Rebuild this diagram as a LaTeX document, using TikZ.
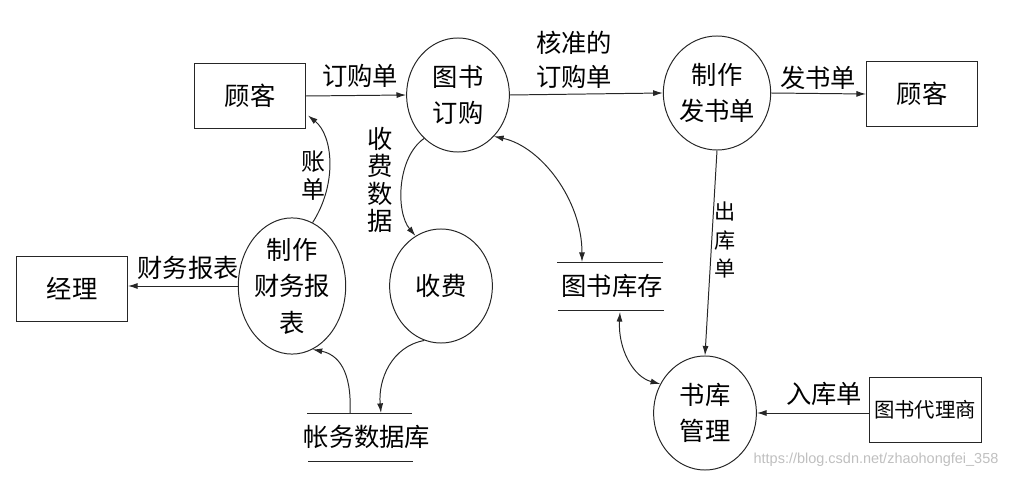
\documentclass[tikz,border=0pt]{standalone}
\usepackage{fontspec}
\setmainfont{Noto Sans CJK SC}
\newfontfamily\wmfont{Liberation Sans}
\usetikzlibrary{arrows.meta,shapes.geometric,calc}
\begin{document}
\begin{tikzpicture}[x=0.025cm,y=-0.025cm,
  line/.style={draw=black!85,line width=0.7pt},
  flow/.style={line,-{Latex[length=2.4mm,width=1.5mm]}},
  bflow/.style={line,{Latex[length=2.4mm,width=1.5mm]}-{Latex[length=2.4mm,width=1.5mm]}},
  proc/.style={ellipse,draw=black!85,line width=0.7pt,minimum width=2.57cm,minimum height=2.85cm,inner sep=0pt,align=center,font=\fontsize{18}{26}\selectfont},
  ext/.style={rectangle,draw=black!85,line width=0.7pt,minimum width=2.775cm,minimum height=1.6cm,inner sep=0pt,font=\fontsize{18}{24}\selectfont},
  store/.style={inner sep=0pt,font=\fontsize{18}{24}\selectfont},
  lbl/.style={inner sep=0pt,align=center,font=\fontsize{18}{24}\selectfont},
]
\useasboundingbox (0,0) rectangle (1020,478);

% entities and processes
\node[ext] (gk1) at (250,96) {顾客};
\node[proc] (ts) at (458,95) {图书\\订购};
\node[proc] (zf) at (717,93) {制作\\发书单};
\node[ext] (gk2) at (922,94) {顾客};
\node[ext] (jl) at (72,289) {经理};
\node[proc] (fz) at (292,286) {制作\\财务报\\表};
\node[proc] (sf) at (441,286) {收费};
\node[store] (zw) at (367,437) {帐务数据库};
\node[store] (kc) at (612,286) {图书库存};
\node[proc] (sk) at (705,413) {书库\\管理};
\node[ext,minimum width=2.8cm,font=\fontsize{14.5}{18}\selectfont] (dl) at (925,410) {图书代理商};

% data store lines
\draw[line] ($(zw.center)+(-60,-24)$) -- ($(zw.center)+(45,-24)$);
\draw[line] ($(zw.center)+(-59,24)$) -- ($(zw.center)+(46,24)$);
\draw[line] ($(kc.center)+(-55,-24)$) -- ($(kc.center)+(51,-24)$);
\draw[line] ($(kc.center)+(-54,24)$) -- ($(kc.center)+(52,24)$);

% connectors
\draw[flow] (gk1.east) -- (ts.west);
\draw[flow] (ts.east) -- (zf.west);
\draw[flow] (zf.east) -- (gk2.west);
\draw[flow] (zf.south) -- (sk.north);
\draw[flow] (dl.west |- sk.east) -- (sk.east);
\draw[flow] (fz.west) -- (fz.west -| jl.east);
\draw[bflow] (ts.-49) .. controls +(47,10) and +(0,-62) .. ($(kc.center)+(-30,-24)$);
\draw[bflow] ($(kc.center)+(8,26)$) .. controls +(-2,37) and +(-27,-7) .. (sk.147);
\draw[flow] (fz.72) .. controls +(25,-39) and +(25,20) .. ($(gk1.south east)+(2,-13)$);
\draw[flow] (ts.-128) .. controls +(-27,19) and +(-20,-24) .. (sf.117);
\draw[flow] ($(zw.center)+(-17,-24)$) .. controls +(2,-43) and +(25,5) .. (fz.-72);
\draw[flow] (sf.-107) .. controls +(-33,6) and +(-3,-33) .. ($(zw.center)+(14,-24)$);

% labels
\node[lbl] (l1) at (360,76) {订购单};
\node[lbl] (l2) at (574,60) {核准的\\订购单};
\node[lbl] (l3) at (818,78) {发书单};
\node[lbl,font=\fontsize{15}{20.6}\selectfont] (l4) at (725,240) {出\\库\\单};
\node[lbl] (l5) at (824,394) {入库单};
\node[lbl] (l6) at (188,268) {财务报表};
\node[lbl,font=\fontsize{17}{20}\selectfont] (l7) at (313,176) {账\\单};
\node[lbl,font=\fontsize{18}{19.6}\selectfont] (l8) at (380,180) {收\\费\\数\\据};
\node[text=black!25,inner sep=0pt,font=\wmfont\fontsize{10.3}{12}\selectfont] (wm) at (876,460) {https://blog.csdn.net/zhaohongfei\_358};
\end{tikzpicture}
\end{document}
